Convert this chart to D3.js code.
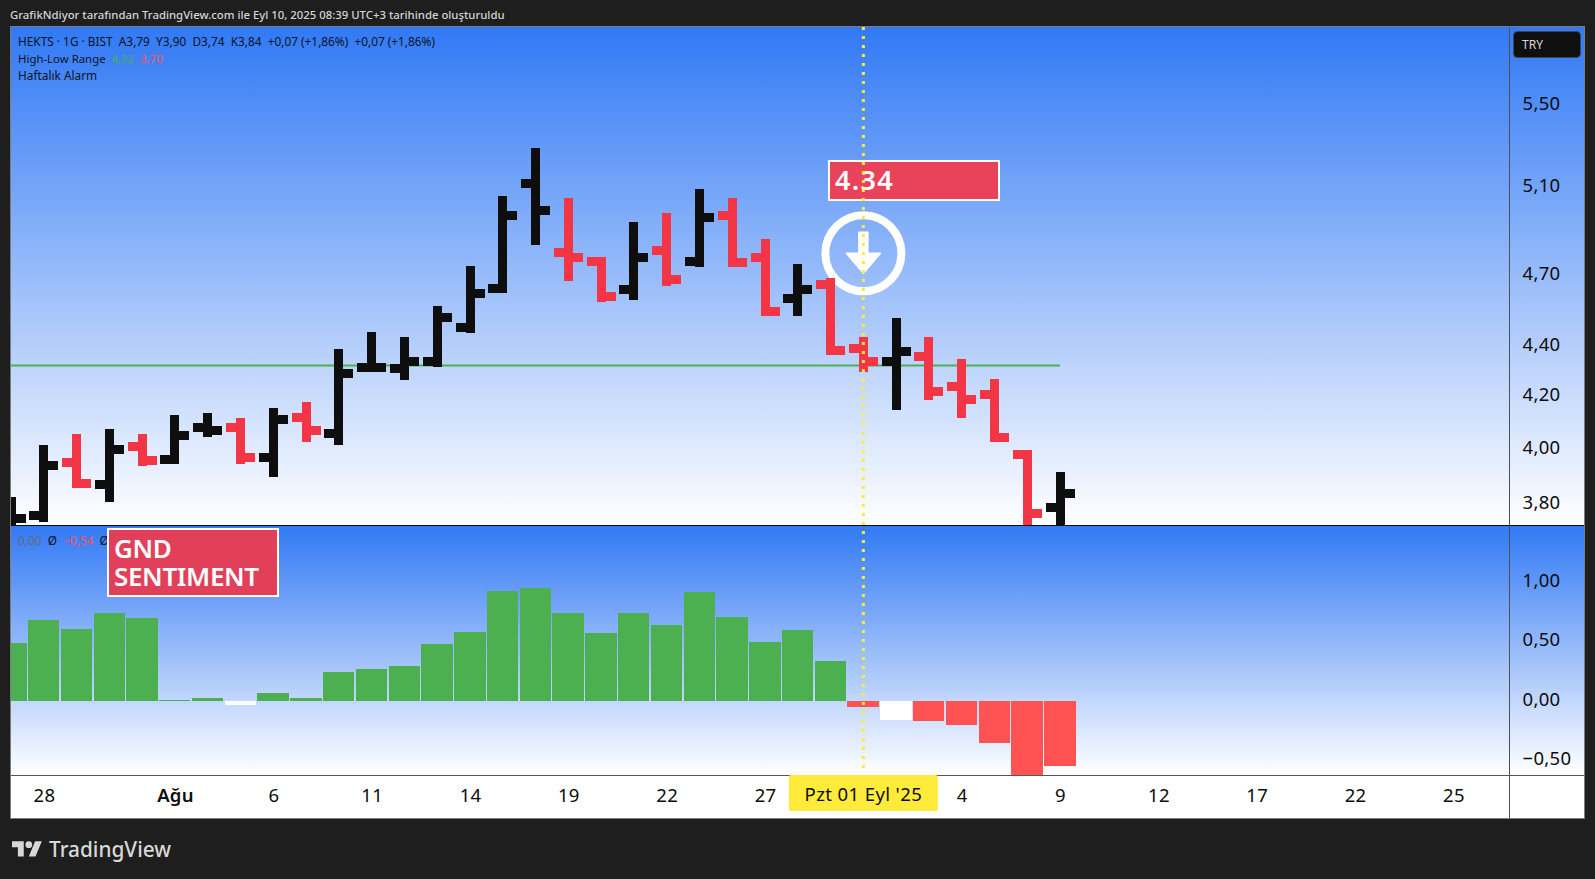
<!DOCTYPE html>
<html lang="tr">
<head>
  <meta charset="UTF-8">
  <title>HEKTS</title>
  <script src="https://d3js.org/d3.v7.min.js"></script>
  <style>
    html, body { margin: 0; padding: 0; background: #1e1e1e; overflow: hidden; }
    svg { display: block; }
    text { font-family: "Noto Sans", sans-serif; }
    .axis text { fill: #0c0c0c; font-size: 18.5px; letter-spacing: 0.3px; font-family: "Noto Sans", sans-serif; }
    .axis .domain { display: none; }
    .legend { font-size: 11.85px; fill: #10131c; }
  </style>
</head>
<body>
  <div id="chart"></div>

  <script>
    // one entry per session, Jul 25 -> Sep 25 (the last ones have no bars yet)
    const tradingDays = [
      "07-25","07-28","07-29","07-30","07-31","08-01","08-04","08-05","08-06","08-07","08-08",
      "08-11","08-12","08-13","08-14","08-15","08-18","08-19","08-20","08-21","08-22",
      "08-25","08-26","08-27","08-28","08-29","09-01","09-02","09-03","09-04","09-05",
      "09-08","09-09","09-10","09-11","09-12","09-15","09-16","09-17","09-18","09-19",
      "09-22","09-23","09-24","09-25"
    ];

    const opens  = [3.72,3.753,3.942,3.863,4.001,3.953,4.072,4.072,3.961,4.110,4.050,4.305,4.301,4.329,4.468,4.632,5.106,4.789,4.749,4.628,4.798,4.749,4.956,4.767,4.589,4.649,4.382,4.329,4.349,4.230,4.199,3.971,3.781];
    const highs  = [3.818,4.006,4.047,4.066,4.047,4.119,4.126,4.107,4.146,4.169,4.379,4.448,4.428,4.557,4.729,5.046,5.275,5.036,4.768,4.926,4.967,5.079,5.036,4.849,4.738,4.677,4.428,4.506,4.428,4.338,4.259,3.987,3.907];
    const lows   = [3.70,3.730,3.849,3.800,3.929,3.936,4.036,3.936,3.889,4.017,4.006,4.286,4.255,4.306,4.444,4.612,4.822,4.664,4.574,4.582,4.642,4.725,4.725,4.515,4.515,4.355,4.286,4.138,4.177,4.107,4.017,3.70,3.70];
    const closes = [3.743,3.931,3.866,3.990,3.950,4.042,4.061,3.961,4.103,4.061,4.281,4.305,4.329,4.509,4.611,4.956,4.979,4.767,4.598,4.767,4.671,4.947,4.745,4.534,4.628,4.374,4.329,4.369,4.210,4.179,4.035,3.760,3.831];

    const sentiment = [0.492,0.685,0.609,0.744,0.702,0.013,0.029,-0.029,0.071,0.029,0.248,0.273,0.298,0.483,0.584,0.929,0.954,0.744,0.576,0.744,0.643,0.920,0.710,0.500,0.601,0.340,-0.046,-0.155,-0.164,-0.197,-0.349,-0.66,-0.54];
    const sentimentWhiteDays = ["08-05","09-02"];

    const rangeHigh = 4.312;
    const signalDay = "09-01";
    const signalPrice = "4.34";

    const priceTicks = [3.8,4.0,4.2,4.4,4.7,5.1,5.5];
    const sentimentTicks = [-0.5,0,0.5,1];
    const timeTickDays = ["07-28","08-01","08-06","08-11","08-14","08-19","08-22","08-27","09-04","09-09","09-12","09-17","09-22","09-25"];
    const timeTickLabels = ["28","Ağu","6","11","14","19","22","27","4","9","12","17","22","25"];

    const width = 1595, height = 879;
    const left = 11, axisX = 1509.5, right = 1584;
    const priceTop = 27, priceBottom = 525, oscBottom = 775, chartBottom = 818;

    const x = d3.scalePoint().domain(tradingDays).range([11.1, 1453.4]);
    const y = d3.scaleLog().domain([3.8, 5.5]).range([502, 103]);
    const yOsc = d3.scaleLinear().domain([-0.5, 1]).range([760.8, 582.3]);

    const locale = d3.formatLocale({ decimal: ",", thousands: ".", grouping: [3], currency: ["", ""], minus: "−" });
    const fmt = locale.format(".2f");

    const svg = d3.select("#chart").append("svg").attr("width", width).attr("height", height);
    const defs = svg.append("defs");

    const grad = defs.append("linearGradient").attr("id", "paneGrad").attr("x1", 0).attr("x2", 0).attr("y1", 0).attr("y2", 1);
    grad.append("stop").attr("offset", "0%").attr("stop-color", "#3179f5");
    grad.append("stop").attr("offset", "100%").attr("stop-color", "#ffffff");

    defs.append("clipPath").attr("id", "clipPrice").append("rect")
      .attr("x", left).attr("y", priceTop).attr("width", axisX - left).attr("height", priceBottom - priceTop);
    defs.append("clipPath").attr("id", "clipOsc").append("rect")
      .attr("x", left).attr("y", priceBottom + 1).attr("width", axisX - left).attr("height", oscBottom - priceBottom - 1);

    // title
    svg.append("text").attr("x", 10).attr("y", 19).attr("fill", "#d4d4d4")
      .style("font-size", "11.35px").style("font-weight", 500)
      .text("GrafikNdiyor tarafından TradingView.com ile Eyl 10, 2025 08:39 UTC+3 tarihinde oluşturuldu");

    // panes
    svg.append("rect").attr("x", left).attr("y", priceTop).attr("width", right - left).attr("height", priceBottom - priceTop).attr("fill", "url(#paneGrad)");
    svg.append("rect").attr("x", left).attr("y", priceBottom).attr("width", right - left).attr("height", oscBottom - priceBottom).attr("fill", "url(#paneGrad)");
    svg.append("rect").attr("x", left).attr("y", oscBottom).attr("width", right - left).attr("height", chartBottom - oscBottom).attr("fill", "#ffffff");

    // sentiment histogram
    const oscG = svg.append("g").attr("clip-path", "url(#clipOsc)");
    oscG.selectAll("rect").data(sentiment).enter().append("rect")
      .attr("x", (d, i) => x(tradingDays[i]) - 15.9)
      .attr("width", 31.4)
      .attr("y", d => d >= 0 ? yOsc(d) : yOsc(0))
      .attr("height", d => Math.abs(yOsc(d) - yOsc(0)))
      .attr("fill", (d, i) => {
        if (sentimentWhiteDays.includes(tradingDays[i])) return "#ffffff";
        return d >= 0 ? "#4caf50" : "#ff5252";
      })
      .attr("shape-rendering", "crispEdges");

    // signal label + arrow, the bars go over these
    const sx = x(signalDay);
    svg.append("rect").attr("x", 829).attr("y", 161).attr("width", 170).attr("height", 39)
      .attr("fill", "#e8435a").attr("stroke", "#ffffff").attr("stroke-width", 2);
    svg.append("text").attr("x", 835).attr("y", 190).attr("fill", "#fff")
      .style("font-size", "27px").style("font-weight", 600).style("letter-spacing", "1.3px").text(signalPrice);

    svg.append("circle").attr("cx", sx).attr("cy", 253.3).attr("r", 38)
      .attr("fill", "none").attr("stroke", "#fff").attr("stroke-width", 8);
    svg.append("path").attr("transform", `translate(${sx},253.3)`)
      .attr("d", "M-4.5,-21 L4.5,-21 L4.5,0 L17,0 L0,20 L-17,0 L-4.5,0 Z")
      .attr("fill", "#fff").attr("stroke", "#fff").attr("stroke-width", 1.5).attr("stroke-linejoin", "round");

    // high-low line
    const lastDay = tradingDays[closes.length - 1];
    const priceG = svg.append("g").attr("clip-path", "url(#clipPrice)");
    priceG.append("line")
      .attr("x1", left).attr("x2", x(lastDay))
      .attr("y1", y(rangeHigh)).attr("y2", y(rangeHigh))
      .attr("stroke", "#4caf50").attr("stroke-width", 2);

    // OHLC bars, coloured by close against the previous close
    const bars = closes.map((c, i) => ({
      day: tradingDays[i], o: opens[i], h: highs[i], l: lows[i], c: c,
      up: i === 0 || c >= closes[i - 1]
    }));
    const bar = priceG.selectAll("g.bar").data(bars).enter().append("g").attr("class", "bar")
      .attr("stroke", d => d.up ? "#0e0e0e" : "#f23645")
      .attr("stroke-width", 9)
      .attr("shape-rendering", "crispEdges");
    bar.append("line").attr("x1", d => x(d.day)).attr("x2", d => x(d.day)).attr("y1", d => y(d.h)).attr("y2", d => y(d.l));
    bar.append("line").attr("x1", d => x(d.day) - 14.5).attr("x2", d => x(d.day)).attr("y1", d => y(d.o)).attr("y2", d => y(d.o));
    bar.append("line").attr("x1", d => x(d.day)).attr("x2", d => x(d.day) + 14.5).attr("y1", d => y(d.c)).attr("y2", d => y(d.c));

    // separators
    svg.append("line").attr("x1", axisX).attr("x2", axisX).attr("y1", priceTop).attr("y2", chartBottom).attr("stroke", "#4a4f58");
    svg.append("line").attr("x1", left).attr("x2", right).attr("y1", priceBottom + 0.5).attr("y2", priceBottom + 0.5).attr("stroke", "#0a0a0a").attr("stroke-width", 1);
    svg.append("line").attr("x1", left).attr("x2", right).attr("y1", oscBottom + 0.5).attr("y2", oscBottom + 0.5).attr("stroke", "#555");
    svg.append("rect").attr("x", left - 0.5).attr("y", priceTop - 0.5).attr("width", right - left + 1).attr("height", chartBottom - priceTop + 1)
      .attr("fill", "none").attr("stroke", "#7c7c7c");

    // axes
    const priceAxis = svg.append("g").attr("class", "axis").attr("transform", `translate(1522.5,0.7)`)
      .call(d3.axisRight(y).tickValues(priceTicks).tickFormat(fmt).tickSize(0).tickPadding(0));
    priceAxis.selectAll("line").remove();

    const oscAxis = svg.append("g").attr("class", "axis").attr("transform", `translate(1522.5,-1.8)`)
      .call(d3.axisRight(yOsc).tickValues(sentimentTicks).tickFormat(fmt).tickSize(0).tickPadding(0));
    oscAxis.selectAll("line").remove();

    const timeAxis = svg.append("g").attr("class", "axis").attr("transform", `translate(0,${oscBottom + 14})`)
      .call(d3.axisBottom(x).tickValues(timeTickDays).tickFormat(d => timeTickLabels[timeTickDays.indexOf(d)]).tickSize(0).tickPadding(0));
    timeAxis.selectAll("line").remove();
    timeAxis.selectAll("text").filter(d => d === "08-01").style("font-weight", 600);

    // currency box
    svg.append("rect").attr("x", 1513.5).attr("y", 31.5).attr("width", 67).attr("height", 26).attr("rx", 4)
      .attr("fill", "#0f0f0f").attr("stroke", "#444");
    svg.append("text").attr("x", 1522).attr("y", 49).attr("fill", "#d8d8d8").style("font-size", "12px").text("TRY");

    // legend rows
    svg.append("text").attr("class", "legend").attr("x", 18).attr("y", 46)
      .style("white-space", "pre")
      .text("HEKTS · 1G · BIST  A3,79  Y3,90  D3,74  K3,84  +0,07 (+1,86%)  +0,07 (+1,86%)");
    const row2 = svg.append("text").attr("class", "legend").attr("x", 18).attr("y", 63)
      .style("white-space", "pre").style("font-size", "11.4px");
    row2.append("tspan").text("High-Low Range  ");
    row2.append("tspan").attr("fill", "#4caf50").text("4,32  ");
    row2.append("tspan").attr("fill", "#ff5252").text("3,70");
    svg.append("text").attr("class", "legend").attr("x", 18).attr("y", 80).text("Haftalık Alarm");

    const row3 = svg.append("text").attr("class", "legend").attr("x", 18).attr("y", 545).style("white-space", "pre");
    row3.append("tspan").attr("fill", "#666a72").text("0,00  ");
    row3.append("tspan").text("Ø  ");
    row3.append("tspan").attr("fill", "#ff5252").text("−0,54  ");
    row3.append("tspan").text("Ø");

    // GND SENTIMENT label
    svg.append("rect").attr("x", 108).attr("y", 529).attr("width", 170).attr("height", 67)
      .attr("fill", "#e23f5a").attr("stroke", "#ffffff").attr("stroke-width", 2);
    svg.append("text").attr("x", 114).attr("y", 558).attr("fill", "#fff")
      .style("font-size", "26px").style("font-weight", 600).style("letter-spacing", "-0.35px").text("GND");
    svg.append("text").attr("x", 114).attr("y", 586).attr("fill", "#fff")
      .style("font-size", "26px").style("font-weight", 600).style("letter-spacing", "-0.35px").text("SENTIMENT");

    // crosshair
    svg.append("line").attr("x1", sx).attr("x2", sx).attr("y1", priceTop).attr("y2", 772)
      .attr("stroke", "#ffeb3b").attr("stroke-width", 3).attr("stroke-dasharray", "3,6");
    svg.append("rect").attr("x", sx - 74.5).attr("y", oscBottom).attr("width", 149).attr("height", 36).attr("rx", 2).attr("fill", "#ffeb3b");
    svg.append("text").attr("x", sx).attr("y", 801).attr("text-anchor", "middle").attr("fill", "#0c0c0c")
      .style("font-size", "18.5px").style("letter-spacing", "0.4px").text("Pzt 01 Eyl '25");

    // logo
    const logo = svg.append("g").attr("transform", "translate(12,838) scale(0.84)").attr("fill", "#d8d8d8");
    logo.append("path").attr("d", "M14 22H7V11H0V4h14v18zM28 22h-8l7.5-18h8L28 22z");
    logo.append("circle").attr("cx", 20).attr("cy", 8).attr("r", 4);
    svg.append("text").attr("x", 49).attr("y", 857).attr("fill", "#d8d8d8").style("font-size", "20.8px").style("font-weight", 500).text("TradingView");
  </script>
</body>
</html>
